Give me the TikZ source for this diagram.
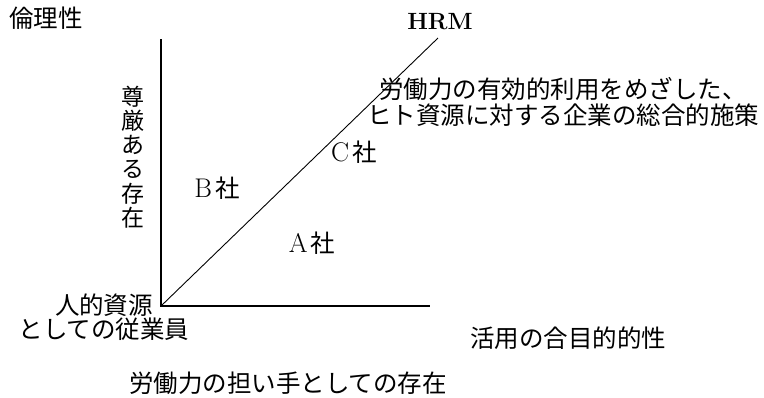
\documentclass[tikz,border=0pt]{standalone}
\usepackage{fontspec}
\newfontfamily\cjk{Noto Sans CJK JP}
\begin{document}
\begin{tikzpicture}[x=1pt,y=-1pt,
  jp/.style={font=\cjk\fontsize{24.5}{24}\selectfont, inner sep=0pt},
  axis/.style={line width=2.6pt},
  diag/.style={line width=0.9pt},
  firm/.style={inner sep=0pt, font=\fontsize{27}{24}\selectfont}]
\useasboundingbox (0,0) rectangle (764,397);
\fill[white] (0,0) rectangle (764,397);
% axes
\coordinate (O) at (161,306);
\coordinate (Ytop) at (161,39);
\coordinate (Xend) at (430,306);
\coordinate (Htop) at (438,38);
\draw[axis] (Ytop) -- (O) -- (Xend);
\draw[diag] (O) -- (Htop);
% labels
\node[jp] (eth) at (46,18) {倫理性};
\node[inner sep=0pt, font=\fontsize{23.5}{24}\selectfont\bfseries] (hrm) at (440,22) {HRM};
\node[jp, align=center, font=\cjk\fontsize{24.5}{26}\selectfont] (hrmdesc) at (563,102) {労働力の有効的利用をめざした、\\ヒト資源に対する企業の総合的施策};
\node[jp, align=center, font=\cjk\fontsize{23}{24.2}\selectfont] (dig) at (133,157) {尊\\厳\\あ\\る\\存\\在};
\node[firm] (b) at (217,188) {B\hspace{3pt}{\cjk\fontsize{24.5}{24}\selectfont 社}};
\node[firm] (c) at (354,152) {C\hspace{3pt}{\cjk\fontsize{24.5}{24}\selectfont 社}};
\node[firm] (a) at (312,243) {A\hspace{3pt}{\cjk\fontsize{24.5}{24}\selectfont 社}};
\node[jp, align=center, font=\cjk\fontsize{24.5}{21}\selectfont] (emp) at (104,317) {人的資源\\としての従業員};
\node[jp] (util) at (568,338) {活用の合目的的性};
\node[jp] (labor) at (288,383) {労働力の担い手としての存在};
\end{tikzpicture}
\end{document}
